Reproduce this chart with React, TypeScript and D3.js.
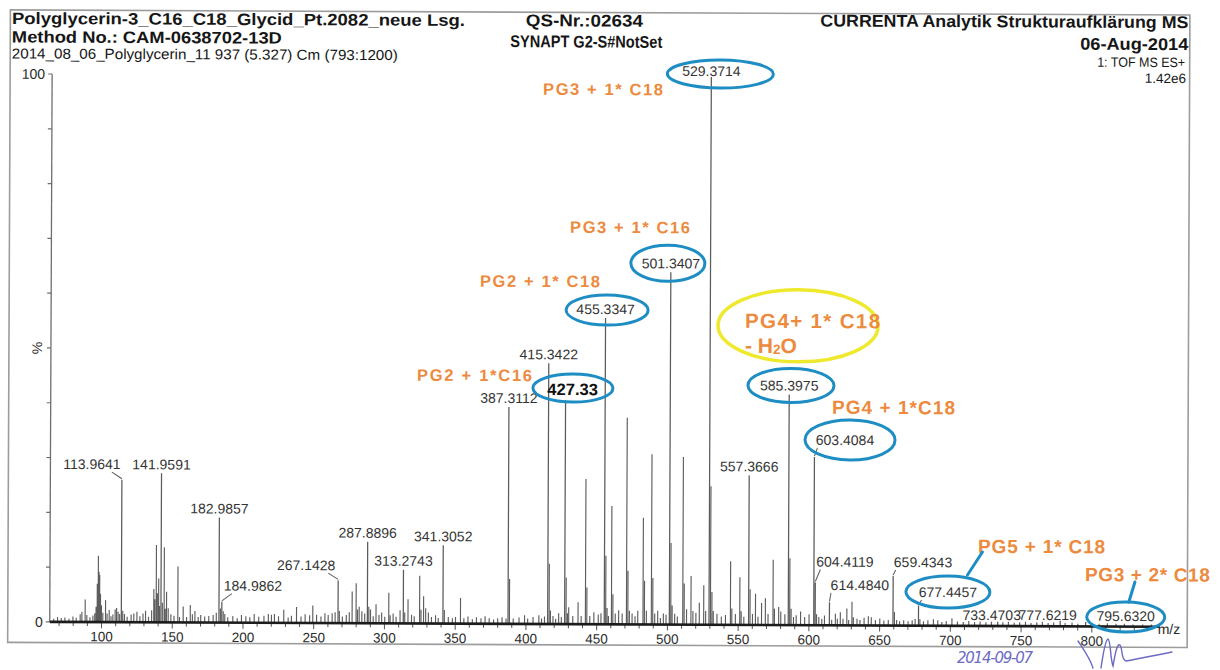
import React from 'react';
import * as d3 from 'd3';

// ---------- spectrum data (m/z, relative intensity %) ----------
const labelledMz = [
  113.9641, 141.9591, 182.9857, 184.9862, 267.1428, 287.8896, 313.2743, 341.3052,
  387.3112, 415.3422, 427.33, 455.3347, 501.3407, 529.3714, 557.3666, 585.3975,
  603.4084, 604.4119, 614.484, 659.4343, 677.4457, 733.4703, 777.6219, 795.632,
];
const labelledPct = [
  26.0, 27.2, 19.2, 3.8, 7.8, 14.9, 9.8, 14.3,
  39.6, 47.6, 40.9, 55.9, 64.3, 100, 27.3, 42.1,
  30.7, 7.8, 4.2, 9.1, 3.7, 0.8, 1.0, 0.8,
];

// unlabelled sticks: [m/z, %]
const minorPeaks: [number, number][] = [
  [66.2, 0.6], [68.9, 0.9], [71.5, 0.7], [74.1, 0.8], [77.0, 0.6], [79.8, 1.0], [82.1, 0.8],
  [84.9, 1.4], [86.1, 1.9], [88.4, 4.1], [89.6, 1.3], [91.8, 0.9], [93.9, 1.2], [95.2, 1.6],
  [96.1, 2.8], [96.9, 7.0], [97.6, 12.1], [98.1, 9.2], [98.6, 8.6], [99.2, 5.2], [99.9, 3.1],
  [100.9, 1.7], [102.8, 4.0], [103.9, 1.6], [105.4, 2.2], [106.7, 1.1], [108.0, 1.4],
  [109.6, 2.3], [110.6, 2.6], [111.7, 1.9], [112.8, 1.5], [114.96, 2.1], [116.2, 1.5],
  [118.1, 1.0], [120.9, 1.4], [122.8, 1.6], [125.0, 1.9], [127.1, 1.1], [129.3, 1.6],
  [131.1, 2.1], [133.2, 1.0], [135.4, 2.2], [136.9, 6.1], [137.6, 4.2], [138.6, 14.1],
  [139.4, 5.3], [140.3, 8.0], [141.0, 3.0], [142.96, 3.6], [144.2, 13.7], [145.0, 2.5],
  [145.9, 5.6], [147.1, 2.6], [149.0, 1.5], [151.2, 1.2], [153.9, 10.2], [155.1, 1.0],
  [157.7, 2.9], [160.1, 1.0], [162.7, 3.2], [164.2, 1.5], [166.0, 2.1], [168.3, 1.0],
  [170.1, 1.4], [172.9, 1.1], [175.8, 1.2], [178.9, 1.4], [181.1, 1.8], [183.99, 2.6],
  [186.0, 2.1], [187.1, 1.6], [189.2, 1.0], [192.8, 1.2], [195.9, 0.8],
  [198.9, 1.4], [202.0, 1.2], [204.8, 1.0], [207.9, 1.6], [211.1, 1.1], [214.8, 1.3],
  [217.9, 1.6], [220.1, 1.5], [222.2, 1.6], [225.1, 1.2], [228.8, 2.4], [231.9, 1.0],
  [234.2, 1.3], [237.8, 2.9], [241.0, 1.2], [243.9, 1.6], [247.1, 1.4], [249.3, 3.2],
  [252.0, 1.5], [255.1, 1.2], [257.9, 1.8], [260.2, 1.5], [263.0, 1.8], [265.1, 2.0],
  [268.1, 2.2], [270.2, 1.2], [273.0, 1.5], [275.1, 2.0], [277.1, 5.8], [279.9, 7.3],
  [280.9, 2.5], [282.1, 3.0], [284.0, 2.2], [286.0, 1.8], [288.9, 3.0], [290.1, 2.5],
  [292.0, 1.3], [294.0, 3.5], [296.1, 1.5], [298.0, 2.0], [300.2, 1.2], [303.0, 5.6],
  [304.0, 1.5], [306.1, 1.8], [308.2, 1.2], [311.0, 2.4], [314.3, 2.0], [316.6, 4.4],
  [319.1, 1.6], [321.0, 1.3], [324.8, 8.7], [325.8, 2.5], [327.6, 5.0], [329.1, 2.8],
  [331.0, 2.0], [333.2, 1.2], [336.1, 1.5], [338.0, 1.0], [342.3, 2.5], [345.1, 1.2],
  [348.0, 1.0], [350.2, 1.2], [353.7, 4.7], [356.1, 1.0], [359.0, 1.3], [362.1, 0.8],
  [365.0, 1.2], [368.2, 1.0], [371.1, 1.4], [374.0, 1.0], [377.1, 0.8], [380.0, 1.0],
  [383.1, 1.2], [385.9, 1.0], [388.3, 8.2],
  [391.0, 1.0], [395.1, 1.2], [399.0, 1.6], [401.2, 1.0], [405.0, 1.3], [409.1, 1.6],
  [411.0, 1.0], [413.1, 1.4], [416.34, 11.0], [417.3, 2.5], [419.1, 1.5], [421.0, 1.0],
  [423.1, 2.0], [425.0, 1.3], [428.33, 8.5], [429.3, 2.0], [430.2, 3.1], [433.1, 1.5],
  [436.8, 4.0], [439.0, 1.5], [442.0, 26.5], [443.0, 6.7], [445.1, 1.5], [448.0, 2.2],
  [451.1, 1.8], [453.0, 2.0], [456.33, 12.5], [457.3, 3.0], [458.3, 1.5], [460.4, 21.6],
  [461.4, 5.5], [463.1, 2.0], [465.5, 2.6], [468.0, 2.0], [471.0, 37.7], [472.0, 9.8],
  [473.1, 2.5], [475.0, 2.0], [477.1, 1.5], [479.0, 2.5], [482.7, 19.5], [483.7, 8.0],
  [485.1, 2.5], [488.6, 31.1], [489.6, 8.5], [491.0, 2.0], [493.1, 2.5], [495.0, 1.2],
  [497.1, 2.0], [499.0, 1.8], [502.34, 14.9], [503.3, 3.5], [505.1, 2.0], [507.0, 1.5],
  [510.8, 30.6], [511.8, 7.5], [513.5, 2.8], [516.6, 8.9], [518.0, 2.5], [520.1, 2.2],
  [522.5, 4.0], [525.6, 7.2], [527.0, 2.5], [530.37, 25.3], [531.4, 6.0], [532.4, 2.5],
  [535.0, 2.0], [538.1, 1.5], [541.0, 1.8], [544.5, 11.6], [545.5, 3.0], [548.0, 2.0],
  [551.1, 8.7], [552.1, 2.5], [554.0, 1.5], [558.37, 6.5], [560.1, 2.0], [562.2, 5.7],
  [564.0, 1.5], [566.5, 4.0], [569.2, 4.9], [571.1, 2.0], [574.6, 11.9], [575.6, 3.0],
  [578.6, 3.3], [580.1, 2.5], [583.0, 2.0], [586.4, 12.2], [587.4, 3.0], [589.1, 1.5],
  [591.0, 1.8], [594.1, 2.5], [597.0, 1.5], [600.1, 2.0], [605.4, 2.0], [607.0, 1.5],
  [609.1, 1.2], [611.0, 1.8], [616.1, 1.0], [618.7, 2.1], [620.1, 1.2], [622.2, 2.4],
  [624.1, 1.2], [626.8, 3.1], [628.1, 1.0], [630.4, 4.3], [631.4, 1.5], [634.0, 1.2],
  [636.1, 1.0], [639.0, 1.4], [642.0, 1.7], [644.1, 1.5], [647.0, 1.0], [650.1, 1.3],
  [653.0, 0.9], [656.1, 1.0], [660.43, 2.5], [662.0, 1.0], [664.1, 0.8],
  [667.0, 1.0], [670.1, 0.8], [673.0, 1.0], [675.1, 1.2], [678.45, 1.2], [681.0, 0.8],
  [684.1, 1.0], [688.0, 1.2], [691.1, 1.0], [694.0, 0.7], [697.1, 0.9], [701.1, 1.4],
  [705.0, 0.8], [709.1, 0.7], [713.0, 0.9], [717.1, 0.7], [721.0, 0.8], [725.1, 0.7],
  [729.0, 0.8], [737.1, 0.7], [741.0, 0.8], [745.1, 0.6], [749.0, 0.7], [753.1, 0.8],
  [757.0, 0.6], [761.1, 0.7], [765.0, 0.8], [769.1, 0.6], [773.0, 0.7], [781.1, 0.6],
  [786.0, 0.7], [790.1, 0.5], [800.0, 0.5], [805.1, 0.5], [811.0, 0.6], [817.1, 0.5],
  [823.0, 0.5], [829.1, 0.4], [836.0, 0.4], [842.1, 0.4],
];

const xTickLabels = [100, 150, 200, 250, 300, 350, 400, 450, 500, 550, 600, 650, 700, 750, 800];
const yTickLabels = [0, 100];

// structure assignments, drawn in orange
const assignments = [
  'PG3 + 1* C18', 'PG3 + 1* C16', 'PG2 + 1* C18', 'PG2 + 1*C16',
  'PG4 + 1*C18', 'PG5 + 1* C18', 'PG3 + 2* C18',
];

// ---------- layout ----------
const X0 = 51, X1 = 1161, Y0 = 624.3, Y100 = 76.4;
const ORANGE = '#ec8a3e';
const BLUE = '#1d8dc3';
const YELLOW = '#efe92e';
const INK = '#6c6bc2';
const FONT = "'Liberation Sans', Arial, Helvetica, sans-serif";

type LabelOpt = { dx?: number; dy?: number; lead?: number; bold?: boolean; digits?: number };
const labelLayout: Record<string, LabelOpt> = {
  '113.9641': { dx: -30, dy: -6.6, lead: -10 },
  '184.9862': { dx: 31, dy: -7.3, lead: 10 },
  '267.1428': { dx: -32, dy: -6.2, lead: -10 },
  '427.3300': { dx: 7, dy: -1, bold: true, digits: 2 },
  '529.3714': { dy: 3.1 },
  '603.4084': { dx: 30.5, dy: -8.2, lead: 3 },
  '604.4119': { dx: 29.6, dy: -12, lead: 5 },
  '614.4840': { dx: 30.3, dy: -8.4, lead: 1.5 },
  '659.4343': { dx: 29.8, dy: -4.7, lead: 2.5 },
  '677.4457': { dx: 29.3, dy: -4.5, lead: 3 },
  '733.4703': { dx: -6, dy: 2.4 },
  '777.6219': { dx: -12.5, dy: 3.2 },
  '795.6320': { dx: 40, dy: 2.8 },
};

// blue rings around selected peak labels (offsets from the label centre)
const rings = [
  { mz: 529.3714, rx: 53, ry: 14, ox: 9, oy: 3 },
  { mz: 501.3407, rx: 37, ry: 18, ox: -3, oy: 0 },
  { mz: 455.3347, rx: 41, ry: 15, ox: 1.5, oy: 1 },
  { mz: 427.33, rx: 40, ry: 14, ox: 0.3, oy: -2 },
  { mz: 585.3975, rx: 43, ry: 17, ox: 1.7, oy: 0 },
  { mz: 603.4084, rx: 45, ry: 20, ox: 5, oy: 0 },
  { mz: 677.4457, rx: 42, ry: 16, ox: 0, oy: 0 },
  { mz: 795.632, rx: 39, ry: 15, ox: 0, oy: 1 },
];

// orange assignment text placement: [x, baseline, width, size]
const assignmentPos: [number, number, number, number][] = [
  [542, 95, 120, 16.5],
  [569.6, 232.9, 120, 16.5],
  [479.8, 287.2, 120, 16.5],
  [417.2, 381.5, 115, 16.5],
  [832.3, 412.8, 123, 19],
  [979, 551.2, 127, 19],
  [1086, 578.9, 125, 19],
];

export default function App() {
  const x = d3.scaleLinear().domain([63.4, 848]).range([X0, X1]);
  const y = d3.scaleLinear().domain([0, 100]).range([Y0, Y100]);

  const stickPath = (pairs: [number, number][]) => {
    const p = d3.path();
    pairs.forEach(([m, v]) => {
      p.moveTo(x(m), y(0));
      p.lineTo(x(m), y(v));
    });
    return p.toString();
  };

  const labelled = labelledMz.map((m, i) => {
    const key = m.toFixed(4);
    const o = labelLayout[key] || {};
    const px = x(m);
    const top = y(labelledPct[i]);
    const lx = px + (o.dx || 0);
    const ly = top - 4 + (o.dy || 0);
    return { m, key, o, px, top, lx, ly, text: m.toFixed(o.digits ?? 4) };
  });
  const labelAt = (m: number) => labelled.find((d) => Math.abs(d.m - m) < 1e-6)!;

  const minorTicks = d3.range(70, 850, 10);

  return (
    <svg
      width={1220}
      height={670}
      viewBox="0 0 1220 670"
      style={{ position: 'absolute', left: 0, top: 0, background: '#fff' }}
      fontFamily={FONT}
    >
      <rect x={0} y={0} width={1220} height={670} fill="#fff" />
      <g transform="rotate(0.25 600 335)">
        {/* page frame */}
        <rect x={9} y={12.5} width={1179.5} height={632.5} fill="none" stroke="#9c9c9c" strokeWidth={1.6} />

        {/* header */}
        <g fill="#161616">
          <text x={10.6} y={26.5} fontSize={16.5} fontWeight="bold" textLength={453} lengthAdjust="spacingAndGlyphs">
            Polyglycerin-3_C16_C18_Glycid_Pt.2082_neue Lsg.
          </text>
          <text x={10.6} y={45} fontSize={16.5} fontWeight="bold" textLength={270} lengthAdjust="spacingAndGlyphs">
            Method No.: CAM-0638702-13D
          </text>
          <text x={10.6} y={61} fontSize={14.5} textLength={386} lengthAdjust="spacingAndGlyphs">
            2014_08_06_Polyglycerin_11 937 (5.327) Cm (793:1200)
          </text>
          <text x={583} y={26.5} fontSize={17} fontWeight="bold" textAnchor="middle" textLength={117} lengthAdjust="spacingAndGlyphs">
            QS-Nr.:02634
          </text>
          <text x={585} y={47.5} fontSize={17} fontWeight="bold" textAnchor="middle" textLength={152} lengthAdjust="spacingAndGlyphs">
            SYNAPT G2-S#NotSet
          </text>
          <text x={1187} y={25.5} fontSize={17} fontWeight="bold" textAnchor="end" textLength={368} lengthAdjust="spacingAndGlyphs">
            CURRENTA Analytik Strukturaufklärung MS
          </text>
          <text x={1187} y={47.5} fontSize={17} fontWeight="bold" textAnchor="end" textLength={108} lengthAdjust="spacingAndGlyphs">
            06-Aug-2014
          </text>
          <text x={1184} y={64.5} fontSize={13.5} textAnchor="end" textLength={88} lengthAdjust="spacingAndGlyphs">
            1: TOF MS ES+
          </text>
          <text x={1185} y={80.5} fontSize={13.5} textAnchor="end">1.42e6</text>
        </g>

        {/* sticks */}
        <path d={stickPath(minorPeaks)} stroke="#5d5d5d" strokeWidth={1.15} fill="none" />
        <path
          d={stickPath(labelledMz.map((m, i) => [m, labelledPct[i]] as [number, number]))}
          stroke="#5a5a5a"
          strokeWidth={1.25}
          fill="none"
        />

        {/* y axis */}
        <line x1={X0} x2={X0} y1={Y0} y2={Y100} stroke="#6e6e6e" strokeWidth={1.3} />
        {d3.range(0, 101, 10).map((v) => (
          <line key={v} x1={X0 - 4} x2={X0} y1={y(v)} y2={y(v)} stroke="#6e6e6e" strokeWidth={1.2} />
        ))}
        {yTickLabels.map((v) => (
          <text key={v} x={44} y={y(v)} dy="0.35em" fontSize={14} fill="#2a2a2a" textAnchor="end">
            {v}
          </text>
        ))}
        <text
          transform={`translate(42,${y(50)}) rotate(-90)`}
          fontSize={14}
          fill="#2a2a2a"
          textAnchor="middle"
        >
          %
        </text>

        {/* x axis */}
        {minorTicks.map((v) => (
          <line
            key={v}
            x1={x(v)}
            x2={x(v)}
            y1={Y0}
            y2={Y0 + (v % 50 === 0 ? 6 : 4)}
            stroke="#555"
            strokeWidth={1}
          />
        ))}
        <line x1={X0} x2={X1} y1={Y0} y2={Y0} stroke="#1c1c1c" strokeWidth={2.6} />
        {xTickLabels.map((v) => (
          <text key={v} x={x(v)} y={643.5} fontSize={13.5} fill="#2a2a2a" textAnchor="middle">
            {v}
          </text>
        ))}
        <text x={1159} y={631.5} fontSize={14} fill="#2a2a2a">m/z</text>

        {/* peak labels */}
        {labelled.map((d) => (
          <g key={d.key}>
            {d.o.lead !== undefined && (
              <line
                x1={d.px + d.o.lead}
                y1={d.ly + 3}
                x2={d.px}
                y2={d.top - 1}
                stroke="#5a5a5a"
                strokeWidth={1}
              />
            )}
            <text
              x={d.lx}
              y={d.ly}
              fontSize={d.o.bold ? 16.5 : 14}
              fontWeight={d.o.bold ? 'bold' : 'normal'}
              fill={d.o.bold ? '#111' : '#333'}
              textAnchor="middle"
            >
              {d.text}
            </text>
          </g>
        ))}

        {/* rings */}
        {rings.map((r) => {
          const d = labelAt(r.mz);
          return (
            <ellipse
              key={r.mz}
              cx={d.lx + r.ox}
              cy={d.ly - 5 + r.oy}
              rx={r.rx}
              ry={r.ry}
              fill="none"
              stroke={BLUE}
              strokeWidth={3}
            />
          );
        })}
        <ellipse cx={798} cy={325} rx={80} ry={36} fill="none" stroke={YELLOW} strokeWidth={3.5} />

        {/* assignments */}
        {assignments.map((t, i) => {
          const [ax, ay, aw, fs] = assignmentPos[i];
          return (
            <text
              key={t}
              x={ax}
              y={ay}
              fontSize={fs}
              fontWeight="bold"
              fill={ORANGE}
              textLength={aw}
              lengthAdjust="spacing"
            >
              {t}
            </text>
          );
        })}
        <text x={745} y={327.2} fontSize={20.5} fontWeight="bold" fill={ORANGE} textLength={135} lengthAdjust="spacing">
          PG4+ 1* C18
        </text>
        <text x={745} y={352.2} fontSize={21} fontWeight="bold" fill={ORANGE}>
          - H<tspan fontSize={13.5} dy={1}>2</tspan>
          <tspan dy={-1}>O</tspan>
        </text>
        <line x1={983.4} y1={550.3} x2={968.5} y2={573.4} stroke={BLUE} strokeWidth={3} strokeLinecap="round" />
        <line x1={1136} y1={579.7} x2={1130} y2={599.7} stroke={BLUE} strokeWidth={3} strokeLinecap="round" />
      </g>

      {/* handwritten date and initials */}
      <text x={957} y={663} fontSize={15} fontStyle="italic" fill={INK} fontFamily="'DejaVu Sans', sans-serif" textLength={76}>
        2014-09-07
      </text>
      <path
        d="M1078,641 C1084,650 1090,658 1093,668 M1101,668 C1103,655 1105,640 1108,639 C1111,641 1110,658 1113,666 C1115,655 1117,643 1120,645 C1123,650 1121,660 1126,661 C1137,659 1152,656 1172,652"
        fill="none"
        stroke={INK}
        strokeWidth={1.4}
        strokeLinecap="round"
      />
    </svg>
  );
}
